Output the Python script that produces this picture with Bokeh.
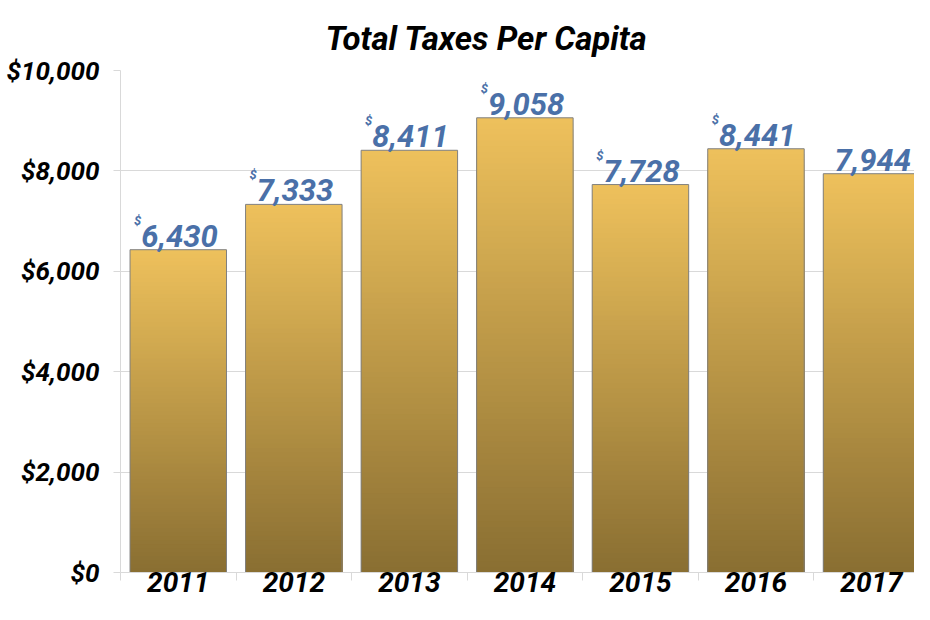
from bokeh.plotting import figure
from bokeh.models import Range1d, FixedTicker, ColumnDataSource
from bokeh.core.properties import value
from bokeh.embed import file_html
from bokeh.resources import INLINE

years = ["2011", "2012", "2013", "2014", "2015", "2016", "2017"]
taxes = [6430, 7333, 8411, 9058, 7728, 8441, 7944]
label_prefix = ["$", "$", "$", "$", "$", "$", ""]
y_ticks = [0, 2000, 4000, 6000, 8000, 10000]
y_tick_labels = ["$0", "$2,000", "$4,000", "$6,000", "$8,000", "$10,000"]

FONT = "Roboto"
TOP = (238, 193, 92)
BOTTOM = (137, 110, 50)
LABEL_COLOR = "#4A70A8"
GRID = "#D9D9D9"
N_STRIPS = 80
BAR_W = 0.835

p = figure(width=914, height=604, output_backend="svg", toolbar_location=None,
           x_range=Range1d(-0.5, 6.372), y_range=Range1d(0, 10000),
           min_border_left=120, min_border_right=0, min_border_top=70,
           min_border_bottom=32, title="Total Taxes Per Capita")
p.outline_line_color = None
p.background_fill_color = "white"
p.border_fill_color = "white"

# gradient bars: stacked overlapping quads, tallest first
xs = list(range(len(years)))
lefts, rights, tops, colors = [], [], [], []
for k in range(N_STRIPS - 1, -1, -1):
    f = (k + 0.5) / N_STRIPS
    c = tuple(int(round(BOTTOM[j] + (TOP[j] - BOTTOM[j]) * f)) for j in range(3))
    col = "#%02x%02x%02x" % c
    for i, v in enumerate(taxes):
        lefts.append(xs[i] - BAR_W / 2)
        rights.append(xs[i] + BAR_W / 2)
        tops.append(v * (k + 1) / N_STRIPS)
        colors.append(col)
p.quad(left=lefts, right=rights, bottom=0, top=tops, fill_color=colors, line_color=None)
p.vbar(x=xs, top=taxes, width=BAR_W, fill_alpha=0, line_color="#808080", line_width=1)

src = ColumnDataSource(dict(x=xs, y=taxes,
                            txt=["{:,}".format(v) for v in taxes],
                            pre=label_prefix))
p.text(x="x", y="y", text="txt", source=src, text_font=value(FONT),
       text_font_style="bold italic", text_font_size="31px", text_color=LABEL_COLOR,
       text_align="left", text_baseline="alphabetic", x_offset=-37, y_offset=-14)
p.text(x="x", y="y", text="pre", source=src, text_font=value(FONT),
       text_font_style="bold italic", text_font_size="13px", text_color=LABEL_COLOR,
       text_align="right", text_baseline="top", x_offset=-37, y_offset=-37)

# title
p.title.text_font = FONT
p.title.text_font_style = "bold italic"
p.title.text_font_size = "33px"
p.title.text_color = "black"
p.title.align = "left"
p.title.vertical_align = "top"
p.title.offset = 205
p.title.standoff = 22
p.title.padding = 0

# y axis
p.yaxis.ticker = FixedTicker(ticks=y_ticks)
p.yaxis.major_label_overrides = {t: l for t, l in zip(y_ticks, y_tick_labels)}
p.yaxis.axis_line_color = GRID
p.yaxis.major_tick_line_color = GRID
p.yaxis.major_tick_out = 7
p.yaxis.major_tick_in = 0
p.yaxis.minor_tick_line_color = None
p.yaxis.major_label_standoff = 14
p.yaxis.major_label_text_font = FONT
p.yaxis.major_label_text_font_style = "bold italic"
p.yaxis.major_label_text_font_size = "26px"
p.yaxis.major_label_text_color = "black"

# x axis
p.xaxis.ticker = FixedTicker(ticks=xs, minor_ticks=[x - 0.5 for x in xs] + [xs[-1] + 0.5])
p.xaxis.major_label_overrides = {x: y for x, y in zip(xs, years)}
p.xaxis.axis_line_color = GRID
p.xaxis.major_tick_line_color = None
p.xaxis.major_tick_out = 0
p.xaxis.major_tick_in = 0
p.xaxis.minor_tick_line_color = GRID
p.xaxis.minor_tick_out = 8
p.xaxis.minor_tick_in = 0
p.xaxis.major_label_standoff = -9
p.xaxis.major_label_text_font = FONT
p.xaxis.major_label_text_font_style = "bold italic"
p.xaxis.major_label_text_font_size = "28px"
p.xaxis.major_label_text_color = "black"

p.xgrid.grid_line_color = None
p.ygrid.ticker = FixedTicker(ticks=y_ticks)
p.ygrid.grid_line_color = GRID

open("out.html", "w").write(file_html(p, INLINE))
